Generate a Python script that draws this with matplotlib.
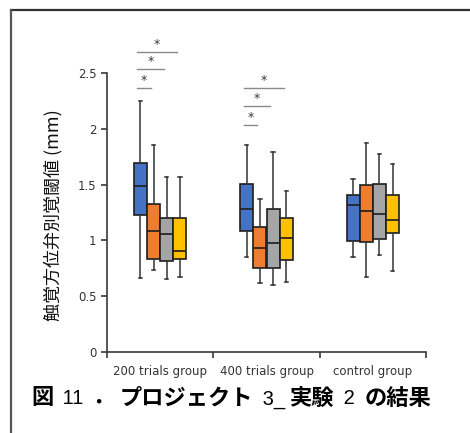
import matplotlib
matplotlib.use("Agg")
import matplotlib.pyplot as plt
from matplotlib.lines import Line2D
from matplotlib.offsetbox import TextArea, HPacker, AnchoredOffsetbox

# data (mm)
groups = ["200 trials group", "400 trials group", "control group"]
colors = ["#4472C4", "#ED7D31", "#A5A5A5", "#FFC000"]

whis_hi = [[2.25, 1.855, 1.568, 1.568],
           [1.858, 1.368, 1.792, 1.443],
           [1.547, 1.876, 1.777, 1.682]]
q3 = [[1.69, 1.326, 1.204, 1.204],
      [1.508, 1.123, 1.284, 1.198],
      [1.404, 1.496, 1.505, 1.407]]
med = [[1.49, 1.087, 1.057, 0.905],
       [1.284, 0.935, 0.974, 1.019],
       [1.32, 1.266, 1.237, 1.18]]
q1 = [[1.225, 0.833, 0.815, 0.836],
      [1.081, 0.756, 0.75, 0.827],
      [0.992, 0.988, 1.01, 1.063]]
whis_lo = [[0.666, 0.732, 0.651, 0.669],
           [0.854, 0.618, 0.60, 0.627],
           [0.854, 0.672, 0.866, 0.723]]

# significance: (group, box i, box j, height)
sig = [(0, 0, 1, 2.363), (0, 0, 2, 2.536), (0, 0, 3, 2.686),
       (1, 0, 1, 2.034), (1, 0, 2, 2.204), (1, 0, 3, 2.363)]

offsets = [-0.186, -0.062, 0.062, 0.186]
bw = 0.122
dark = "#3a3a3a"

fig = plt.figure(figsize=(4.7, 4.33), dpi=100)
ax = fig.add_axes([107 / 470, 1 - 352 / 433, 319 / 470, 312.5 / 433])

for g in range(3):
    stats = []
    pos = []
    for k in range(4):
        stats.append(dict(med=med[g][k], q1=q1[g][k], q3=q3[g][k],
                          whislo=whis_lo[g][k], whishi=whis_hi[g][k], fliers=[]))
        pos.append(g + 0.5 + offsets[k])
    bp = ax.bxp(stats, positions=pos, widths=bw, patch_artist=True, showfliers=False,
                boxprops=dict(linewidth=1.2, edgecolor="#1e1e1e"),
                medianprops=dict(color="#1e1e1e", linewidth=1.2),
                whiskerprops=dict(color="#333333", linewidth=1.1),
                capprops=dict(color="#333333", linewidth=1.1),
                capwidths=0.03, manage_ticks=False)
    for patch, c in zip(bp["boxes"], colors):
        patch.set_facecolor(c)

for g, i, j, h in sig:
    x0 = g + 0.5 + offsets[i] - 0.03
    x1 = g + 0.5 + offsets[j] - 0.025
    ax.plot([x0, x1], [h, h], color="#8a8a8a", lw=1.0)
    ax.text((x0 + x1) / 2, h + 0.01, "*", ha="center", va="bottom",
            fontsize=9, color="#3a3a3a")

ax.set_xlim(0, 3)
ax.set_ylim(0, 2.8)
ax.spines["top"].set_visible(False)
ax.spines["right"].set_visible(False)
ax.spines["left"].set_bounds(0, 2.5)
for s in ["left", "bottom"]:
    ax.spines[s].set_color(dark)
    ax.spines[s].set_linewidth(1.2)

ax.set_yticks([0, 0.5, 1, 1.5, 2, 2.5])
ax.set_yticklabels(["0", "0.5", "1", "1.5", "2", "2.5"])
ax.set_xticks([0, 1, 2, 3])
ax.set_xticklabels([])
ax.set_xticks([0.5, 1.5, 2.5], minor=True)
ax.set_xticklabels(groups, minor=True)
ax.tick_params(axis="x", which="minor", length=0, pad=9)
ax.tick_params(axis="both", which="major", length=4, width=1.2, color=dark)
ax.tick_params(labelsize=8.5, labelcolor="#333333")
ax.tick_params(axis="x", which="minor", labelsize=8.5, labelcolor="#333333")

ax.set_ylabel("触覚方位弁別覚閾値 (mm)", family=["Noto Sans CJK JP", "DejaVu Sans"],
              fontsize=13, color="#111111")
ax.yaxis.set_label_coords(-0.141, 0.438)

# frame lines around the picture
fig.add_artist(Line2D([11 / 470, 1], [1 - 9.5 / 433] * 2, color="#333333", lw=1.6))
fig.add_artist(Line2D([11 / 470] * 2, [0, 1 - 9.5 / 433], color="#555555", lw=1.6))

# caption with mixed bold CJK / regular digits
cjk = dict(family=["Noto Sans CJK JP", "DejaVu Sans"], fontweight="bold", fontsize=16, color="black")
lat = dict(family=["Liberation Sans"], fontsize=14.5, color="black")
parts = [("図", cjk), (" 11", lat), (" ．", cjk), ("プロジェクト", cjk), (" 3_", lat),
         ("実験", cjk), (" 2 ", lat), ("の結果", cjk)]
boxes = [TextArea(t, textprops=p) for t, p in parts]
pack = HPacker(children=boxes, align="baseline", pad=0, sep=3)
anch = AnchoredOffsetbox(loc="center left", child=pack, pad=0, borderpad=0, frameon=False,
                         bbox_to_anchor=(31 / 470, 1 - 398 / 433),
                         bbox_transform=fig.transFigure)
fig.add_artist(anch)

fig.savefig("out.png", dpi=100)
